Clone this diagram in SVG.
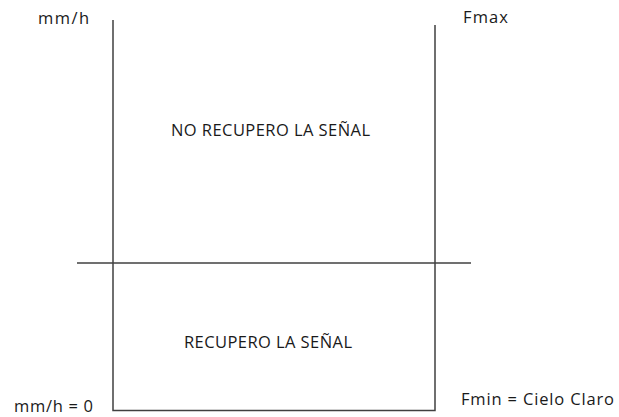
<svg xmlns="http://www.w3.org/2000/svg" width="619" height="417" viewBox="0 0 619 417">
<style>
.ln{stroke:#404040;stroke-width:1.5;fill:none}
.t{font-family:"Open Sans","Liberation Sans",sans-serif;font-size:16.5px;fill:#1a1a1a}
</style>
<rect width="619" height="417" fill="#fff"/>
<g id="connectors">
<path class="ln" d="M113,20 V410.5 H435 V25"/>
<line class="ln" x1="77" y1="263" x2="471" y2="263"/>
</g>
<g id="label-mmh"><text class="t" x="38" y="24" textLength="51" lengthAdjust="spacing">mm/h</text></g>
<g id="label-fmax"><text class="t" x="463" y="23" textLength="45" lengthAdjust="spacing">Fmax</text></g>
<g id="label-mmh0"><text class="t" x="14" y="412" textLength="79" lengthAdjust="spacing">mm/h = 0</text></g>
<g id="label-fmin"><text class="t" x="461" y="405" textLength="153" lengthAdjust="spacing">Fmin = Cielo Claro</text></g>
<g id="region-top"><text class="t" x="171" y="136" textLength="199" lengthAdjust="spacing">NO RECUPERO LA SEÑAL</text></g>
<g id="region-bottom"><text class="t" x="184" y="348" textLength="168" lengthAdjust="spacing">RECUPERO LA SEÑAL</text></g>
</svg>
